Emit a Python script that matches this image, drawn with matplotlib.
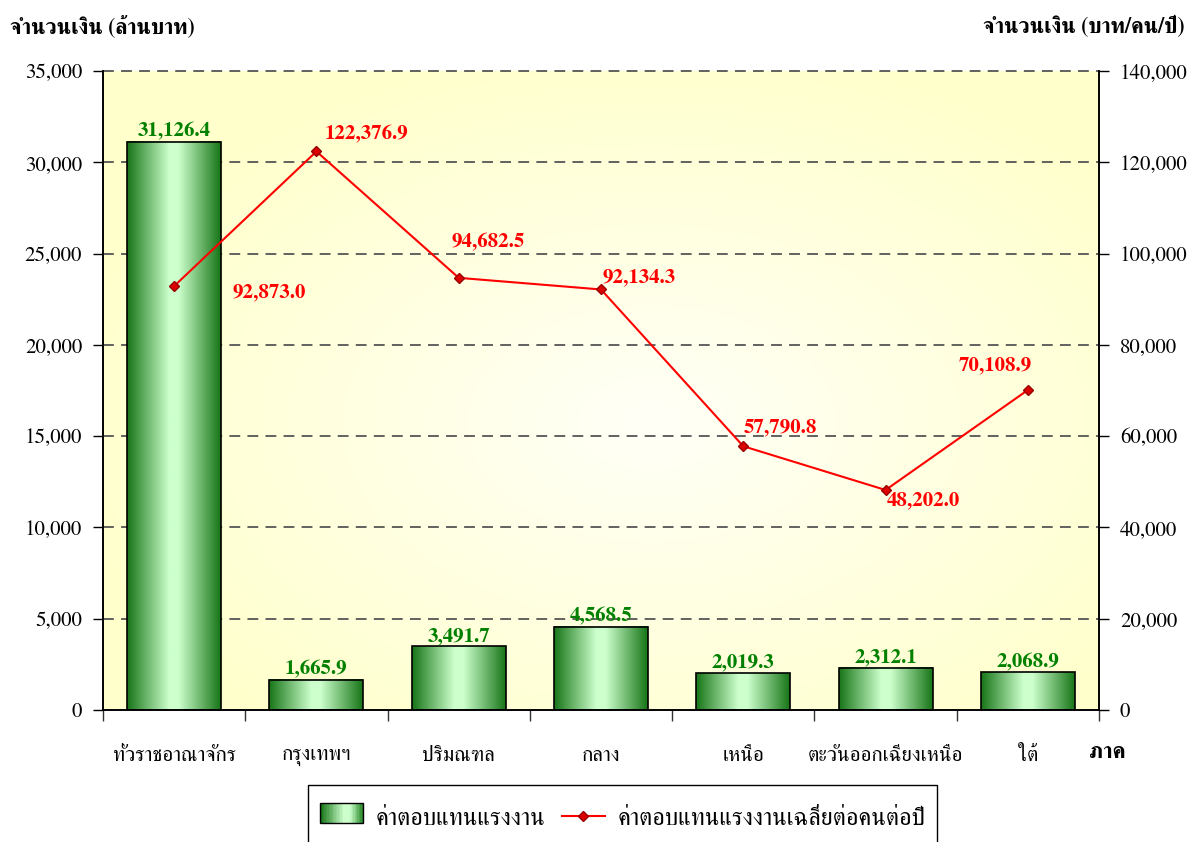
import matplotlib
matplotlib.use("Agg")
import matplotlib.pyplot as plt
import numpy as np
from matplotlib.colors import LinearSegmentedColormap
from matplotlib.patches import Rectangle
from matplotlib.lines import Line2D
from matplotlib.legend_handler import HandlerBase

# ---------------- data ----------------
categories = ["ทั่วราชอาณาจักร", "กรุงเทพฯ", "ปริมณฑล", "กลาง", "เหนือ", "ตะวันออกเฉียงเหนือ", "ใต้"]
compensation = [31126.4, 1665.9, 3491.7, 4568.5, 2019.3, 2312.1, 2068.9]          # ล้านบาท
avg_per_person = [92873.0, 122376.9, 94682.5, 92134.3, 57790.8, 48202.0, 70108.9]  # บาท/คน/ปี
left_ticks = [0, 5000, 10000, 15000, 20000, 25000, 30000, 35000]
right_ticks = [0, 20000, 40000, 60000, 80000, 100000, 120000, 140000]
bar_label = "ค่าตอบแทนแรงงาน"
line_label = "ค่าตอบแทนแรงงานเฉลี่ยต่อคนต่อปี"
left_title = "จำนวนเงิน (ล้านบาท)"
right_title = "จำนวนเงิน (บาท/คน/ปี)"
x_title = "ภาค"

FONT = ["FreeSerif", "DejaVu Serif"]
plt.rcParams['font.family'] = FONT

fig = plt.figure(figsize=(11.9, 8.42), dpi=100)
ax = fig.add_axes([103/1190, 1-710/842, (1099-103)/1190, (710-71)/842])
ax2 = ax.twinx()

n = len(categories)
x = np.arange(n)
ax.set_xlim(-0.5, n-0.5)
ax.set_ylim(0, 35000)
ax2.set_ylim(0, 140000)

# background radial gradient
H, W = 300, 400
yy, xx = np.mgrid[0:H, 0:W]
cx, cy = 0.55*W, 0.55*H
r = np.sqrt(((xx-cx)/(W*0.6))**2 + ((yy-cy)/(H*0.6))**2)
r = np.clip(r, 0, 1)
c_in = np.array([1.0, 1.0, 0.97])
c_out = np.array([1.0, 1.0, 0.80])
img = c_in[None, None, :]*(1-r[..., None]) + c_out[None, None, :]*r[..., None]
ax.imshow(img, extent=(-0.5, n-0.5, 0, 35000), aspect='auto', zorder=0, origin='upper')

# gridlines
for t in left_ticks[1:]:
    ax.axhline(t, color="#555555", lw=1.3, ls=(0, (6, 4)), zorder=1, clip_on=False)

# bars with horizontal gradient
bar_cmap = LinearSegmentedColormap.from_list("g", [(0, "#177517"), (0.45, "#ccffcc"), (0.55, "#ccffcc"), (1, "#177517")])
grad = np.linspace(0, 1, 256)[None, :]
bw = 0.66
bars = ax.bar(x, compensation, width=bw, facecolor="none", edgecolor="black", lw=1.2, zorder=3)
for b in bars:
    x0, w, h = b.get_x(), b.get_width(), b.get_height()
    ax.imshow(grad, cmap=bar_cmap, extent=(x0, x0+w, 0, h), aspect='auto', zorder=2)
ax.set_xlim(-0.5, n-0.5)
ax.set_ylim(0, 35000)

for xi, v in zip(x, compensation):
    ax.annotate(f"{v:,.1f}", (xi, v), xytext=(0, 1), textcoords="offset points",
                ha="center", va="bottom", color="#008000", fontsize=15, fontweight="bold", zorder=5)

# line
ax2.plot(x, avg_per_person, color="#ff0000", lw=1.5, marker="D", ms=5.5,
         markerfacecolor="#dd0000", markeredgecolor="#990000", zorder=5)
offsets = [(42, -11), (6, 6), (-5, 19), (1, 2), (0, 7), (1, -14), (-50, 11)]
for xi, v, (dx, dy) in zip(x, avg_per_person, offsets):
    ax2.annotate(f"{v:,.1f}", (xi, v), xytext=(dx, dy), textcoords="offset points",
                 ha="left", va="bottom", color="#ff0000", fontsize=15, fontweight="bold")

# axes styling
ax.set_yticks(left_ticks)
ax.set_yticklabels([f"{t:,}" for t in left_ticks], fontsize=15)
ax2.set_yticks(right_ticks)
ax2.set_yticklabels([f"{t:,}" for t in right_ticks], fontsize=15)
ax.set_xticks(np.arange(n+1)-0.5)
ax.set_xticklabels([])
ax.set_xticks(x, minor=True)
ax.set_xticklabels(categories, minor=True, fontsize=15)
ax.tick_params(axis='x', which='minor', length=0, pad=26)
ax.tick_params(axis='x', which='major', direction='out', length=8, width=1, color='#333333')
ax.tick_params(axis='y', direction='out', length=7, width=1, pad=8)
ax2.tick_params(axis='y', direction='out', length=7, width=1, pad=8)
ax.spines['top'].set_visible(False)
ax2.spines['top'].set_visible(False)
for sp in ['left', 'right', 'bottom']:
    ax.spines[sp].set_linewidth(1.2)
    ax2.spines[sp].set_linewidth(1.2)
ax.set_zorder(1)
ax2.set_zorder(2)
ax2.patch.set_visible(False)

# titles
fig.text(10/1190, 1-27/842, left_title, fontsize=15.5, fontweight="bold", ha="left", va="center")
fig.text(1185/1190, 1-27/842, right_title, fontsize=15.5, fontweight="bold", ha="right", va="center")
fig.text(1107/1190, 1-752/842, x_title, fontsize=16, fontweight="bold", ha="center", va="center")

# legend
leg_cmap = LinearSegmentedColormap.from_list("lg", [(0, "#177517"), (0.55, "#ccffcc"), (0.7, "#ccffcc"), (1, "#2a8a2a")])

class GradHandler(HandlerBase):
    def create_artists(self, legend, orig_handle, xd, yd, width, height, fontsize, trans):
        arts = []
        N = 30
        for i in range(N):
            t = i/(N-1)
            arts.append(Rectangle((xd + width*i/N, yd), width/N+0.3, height, facecolor=leg_cmap(t),
                                  edgecolor='none', transform=trans))
        arts.append(Rectangle((xd, yd), width, height, facecolor='none', edgecolor='black', lw=1, transform=trans))
        return arts

# legend frame (bottom runs off the figure as in the reference)
fig.patches.append(Rectangle((308/1190, -20/842), (937-308)/1190, (842-785+20)/842,
                             transform=fig.transFigure, facecolor="white", edgecolor="black",
                             lw=1.0, zorder=0))

proxy_bar = Rectangle((0, 0), 1, 1)
proxy_line = Line2D([], [], color="#ff0000", lw=1.5, marker="D", ms=5.5,
                    markerfacecolor="#dd0000", markeredgecolor="#990000")
leg = fig.legend([proxy_bar, proxy_line], [bar_label, line_label], loc="center left",
                 bbox_to_anchor=(308/1190, 1-818/842), borderaxespad=0, ncol=2, frameon=False,
                 fontsize=17.5, handlelength=1.77, handleheight=0.9, handletextpad=0.53,
                 columnspacing=0.66, borderpad=0.5, handler_map={Rectangle: GradHandler()})

fig.savefig("out.png")
